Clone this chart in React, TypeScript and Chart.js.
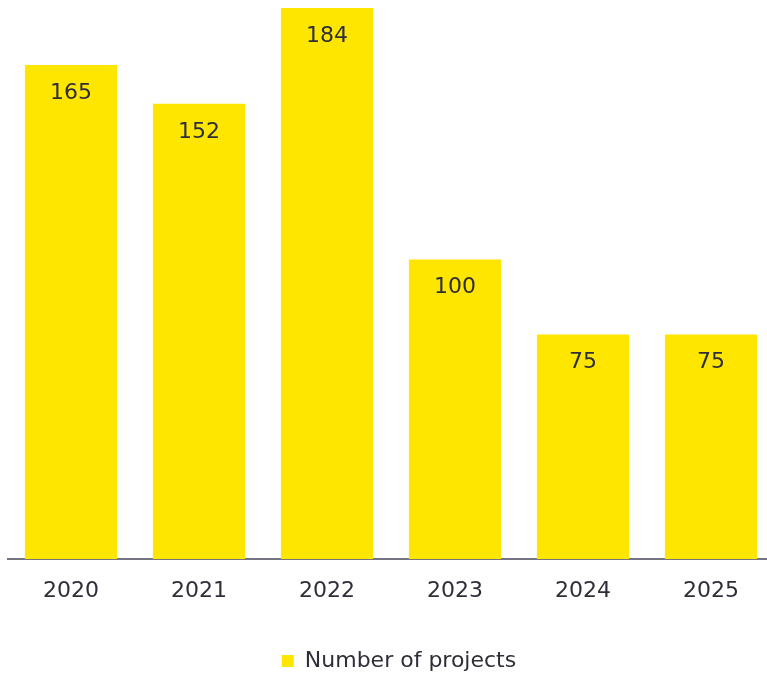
import React, { useEffect, useRef } from "react";
import { Chart, registerables } from "chart.js";

Chart.register(...registerables);

const categories = ["2020", "2021", "2022", "2023", "2024", "2025"];
const projectCounts = [165, 152, 184, 100, 75, 75];
const seriesLabel = "Number of projects";

const YELLOW = "#FFE600";
const TEXT = "#2E2E38";
const AXIS = "#747480";
const FONT = "'DejaVu Sans', sans-serif";

const valueLabels = {
  id: "valueLabels",
  afterDatasetsDraw(chart: any) {
    const ctx = chart.ctx;
    const meta = chart.getDatasetMeta(0);
    ctx.save();
    ctx.fillStyle = TEXT;
    ctx.font = `22px ${FONT}`;
    ctx.textAlign = "center";
    ctx.textBaseline = "middle";
    meta.data.forEach((bar: any, i: number) => {
      const v = chart.data.datasets[0].data[i];
      ctx.fillText(String(v), bar.x, bar.y + 28);
    });
    ctx.restore();
  },
};

const legendShift = {
  id: "legendShift",
  afterLayout(chart: any) {
    if (chart.legend) {
      chart.legend.left += 8;
      chart.legend.right += 8;
    }
  },
};

export default function App() {
  const ref = useRef<HTMLCanvasElement | null>(null);

  useEffect(() => {
    if (!ref.current) return;
    const chart = new Chart(ref.current, {
      type: "bar",
      data: {
        labels: categories,
        datasets: [
          {
            label: seriesLabel,
            data: projectCounts,
            backgroundColor: YELLOW,
            borderWidth: 0,
            barPercentage: 0.72,
            categoryPercentage: 1,
          },
        ],
      },
      options: {
        animation: false,
        responsive: false,
        maintainAspectRatio: false,
        layout: { padding: { left: 0, right: 0, top: 0, bottom: 0 } },
        plugins: {
          tooltip: { enabled: false },
          legend: {
            position: "bottom",
            labels: {
              boxWidth: 12,
              boxHeight: 12,
              padding: 3,
              color: TEXT,
              font: { family: FONT, size: 22 },
            },
          },
        },
        scales: {
          x: {
            grid: { display: false, drawTicks: false },
            border: { display: true, color: AXIS, width: 2 },
            ticks: {
              color: TEXT,
              padding: 19,
              font: { family: FONT, size: 22 },
              maxRotation: 0,
            },
            afterFit: (scale: any) => {
              scale.height = 88;
            },
          },
          y: {
            display: false,
            min: 0,
            max: 184,
          },
        },
      },
      plugins: [valueLabels, legendShift],
    });
    return () => chart.destroy();
  }, []);

  return (
    <div
      style={{
        position: "absolute",
        left: 0,
        top: 0,
        width: 767,
        height: 674,
        overflow: "hidden",
        background: "#ffffff",
      }}
    >
      <canvas
        ref={ref}
        width={768}
        height={674}
        style={{ position: "absolute", left: 7, top: 8, width: 768, height: 674 }}
      />
    </div>
  );
}
